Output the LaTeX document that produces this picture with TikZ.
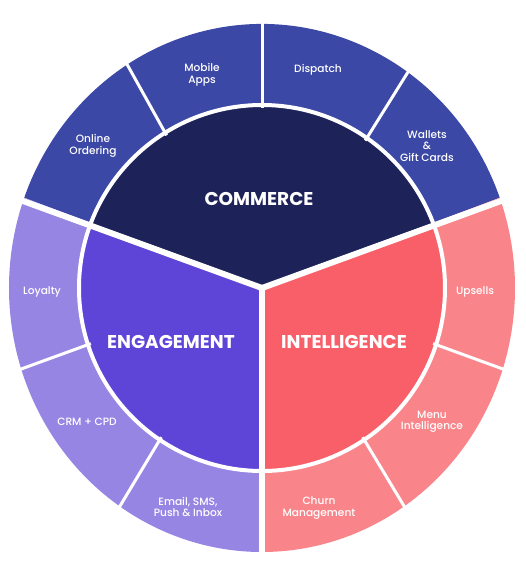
\documentclass[tikz,border=0pt]{standalone}
\usepackage{fontspec}
\setmainfont{Poppins}
\newfontfamily\ringFont{Poppins Medium}

\begin{document}
\begin{tikzpicture}[x=1pt, y=1pt,
    ringLabel/.style={text=white, align=center, inner sep=0pt, font=\ringFont\fontsize{10.6}{11.5}\selectfont},
    hubLabel/.style={text=white, inner sep=0pt, font=\bfseries\fontsize{18.5}{20}\selectfont}]
    \def\hubRadius{183}

    \definecolor{commerceHub}{HTML}{1D2259}
    \definecolor{commerceRing}{HTML}{3B48A5}
    \definecolor{engageHub}{HTML}{5F45D7}
    \definecolor{engageRing}{HTML}{9785E4}
    \definecolor{intelHub}{HTML}{F95F69}
    \definecolor{intelRing}{HTML}{F9858B}

    \useasboundingbox (-262,-290) rectangle (264,288);

    % Outer ring
    \foreach \a/\b/\c in {20/160/commerceRing, 160/270/engageRing, 270/380/intelRing}
        \fill[\c] (0,0) -- (\a:253 and 264) arc[start angle=\a, end angle=\b, x radius=253, y radius=264] -- cycle;

    % Hub sectors
    \foreach \a/\b/\c in {20/160/commerceHub, 160/270/engageHub, 270/380/intelHub}
        \fill[\c] (0,0) -- (\a:\hubRadius) arc[start angle=\a, end angle=\b, radius=\hubRadius] -- cycle;

    % White gaps
    \draw[white, line width=4] (0,0) circle[radius=\hubRadius];
    \foreach \a in {55,90,122,198,236,304,342}
        \draw[white, line width=3] (\a:180) -- (\a:262 and 272);
    \foreach \a in {20,160,270}
        \draw[white, line width=6] (0,0) -- (\a:275);

    % Hub labels
    \node[hubLabel] (commerce) at (-3,89) {COMMERCE};
    \node[hubLabel] (engagement) at (-91,-54) {ENGAGEMENT};
    \node[hubLabel] (intelligence) at (82,-54) {INTELLIGENCE};

    % Ring labels
    \node[ringLabel] (online) at (-169,142) {Online\\Ordering};
    \node[ringLabel] (mobile) at (-60,213) {Mobile\\Apps};
    \node[ringLabel] (dispatch) at (56,218) {Dispatch};
    \node[ringLabel] (wallets) at (165,142) {Wallets\\\&\\Gift Cards};
    \node[ringLabel] (loyalty) at (-220,-4) {Loyalty};
    \node[ringLabel] (crm) at (-175,-134) {CRM + CPD};
    \node[ringLabel] (email) at (-74,-219) {Email, SMS,\\Push \& Inbox};
    \node[ringLabel] (upsells) at (213,-4) {Upsells};
    \node[ringLabel] (menu) at (170,-134) {Menu\\Intelligence};
    \node[ringLabel] (churn) at (57,-220) {Churn\\Management};

\end{tikzpicture}
\end{document}
